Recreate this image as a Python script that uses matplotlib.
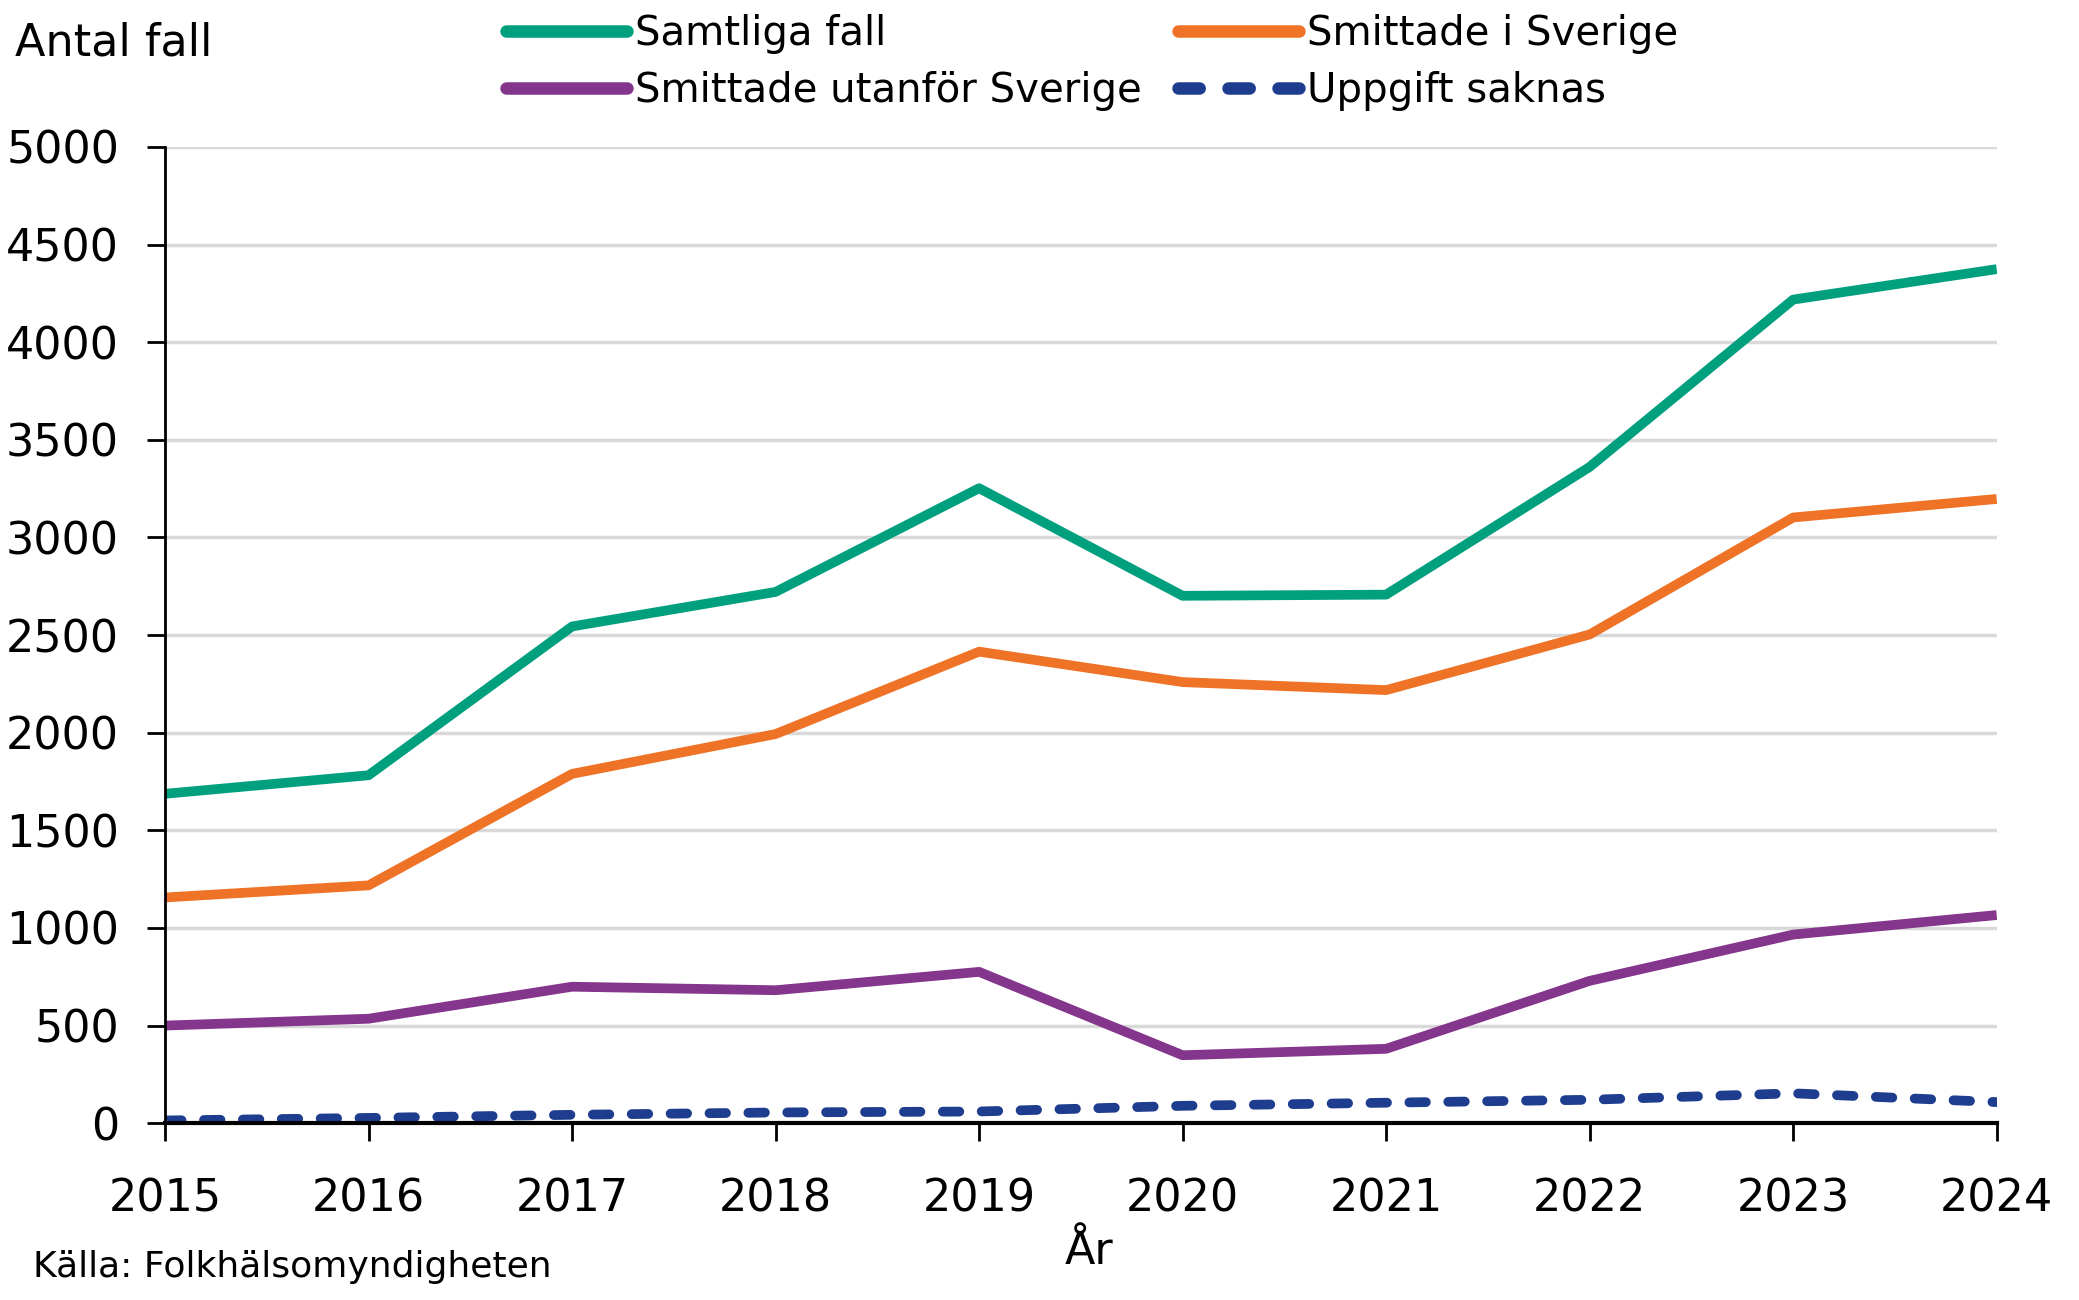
import matplotlib
matplotlib.use("Agg")
import matplotlib.pyplot as plt

# values
years = [2015, 2016, 2017, 2018, 2019, 2020, 2021, 2022, 2023, 2024]
samtliga = [1687, 1782, 2544, 2721, 3252, 2701, 2707, 3361, 4218, 4374]
sverige = [1156, 1218, 1789, 1993, 2415, 2259, 2218, 2503, 3102, 3197]
utanfor = [500, 535, 699, 681, 775, 348, 381, 729, 966, 1066]
saknas = [14, 27, 43, 55, 60, 89, 105, 120, 153, 108]

series_labels = ["Samtliga fall", "Smittade i Sverige",
                 "Smittade utanför Sverige", "Uppgift saknas"]
yticks = [0, 500, 1000, 1500, 2000, 2500, 3000, 3500, 4000, 4500, 5000]

plt.rcParams['font.family'] = ['DejaVu Sans']

fig = plt.figure(figsize=(20.79, 13), dpi=100)
ax = fig.add_axes([0.0794, 0.136, 0.881, 0.751])

lw = 7
l1, = ax.plot(years, samtliga, color="#00A07F", lw=lw, solid_capstyle="butt")
l2, = ax.plot(years, sverige, color="#EE7326", lw=lw, solid_capstyle="butt")
l3, = ax.plot(years, utanfor, color="#84358C", lw=lw, solid_capstyle="butt")
l4, = ax.plot(years, saknas, color="#1F3D8F", lw=lw, ls=(0, (1.7, 2.3)),
              dash_capstyle="round")

ax.set_xlim(2015, 2024)
ax.set_ylim(0, 5000)
ax.set_yticks(yticks)
ax.set_xticks(years)
ax.tick_params(axis="both", labelsize=32, length=13, width=2, direction="out")
ax.tick_params(axis="x", pad=26)
ax.tick_params(axis="y", pad=20)

ax.grid(axis="y", color="#D9D9D9", lw=2.5)
ax.set_axisbelow(True)
for s in ["top", "right"]:
    ax.spines[s].set_visible(False)
ax.spines["left"].set_linewidth(2)
ax.spines["bottom"].set_linewidth(3)

fig.text(0.007, 0.967, "Antal fall", fontsize=32, va="center", ha="left")
fig.text(0.524, 0.037, "År", fontsize=32, ha="center", va="center")
fig.text(0.016, 0.025, "Källa: Folkhälsomyndigheten", fontsize=26,
         ha="left", va="center")

# order so the rows read Samtliga / Smittade i Sverige, then the other two
leg = fig.legend([l1, l3, l2, l4],
                 [series_labels[0], series_labels[2],
                  series_labels[1], series_labels[3]],
                 ncol=2, loc="upper left", bbox_to_anchor=(0.226, 1.017),
                 frameon=False, fontsize=29, handlelength=3.0,
                 handletextpad=0.2, columnspacing=0.9, labelspacing=0.42)
for h in leg.get_lines():
    h.set_linewidth(9)
    if h.get_linestyle() == "-":
        h.set_solid_capstyle("round")

fig.savefig("out.png", dpi=100)
